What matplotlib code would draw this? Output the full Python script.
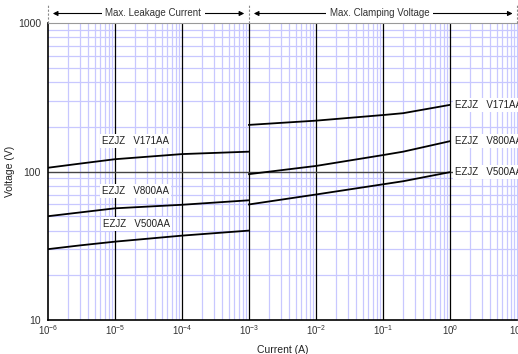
import matplotlib
matplotlib.use("Agg")
import matplotlib.pyplot as plt
import numpy as np

plt.rcParams['font.family'] = ['Liberation Sans', 'DejaVu Sans']
plt.rcParams['axes.unicode_minus'] = False

# Leakage region (current A, voltage V)
leak_x = [1e-6, 3e-6, 1e-5, 1e-4, 1e-3]
leak_171 = [106, 113, 121, 131, 136]
leak_800 = [50, 53, 56.5, 59.7, 64]
leak_500 = [30, 31.8, 33.7, 37, 40]

# Clamping region
clamp_x = [1e-3, 1e-2, 1e-1, 2e-1, 1e0]
clamp_171 = [206, 220, 240, 247, 281]
clamp_800 = [96, 109, 129, 136, 160]
clamp_500 = [60, 70, 82, 86, 99]

series_names = ["EZJZ   V171AA", "EZJZ   V800AA", "EZJZ   V500AA"]
x_ticks = [1e-6, 1e-5, 1e-4, 1e-3, 1e-2, 1e-1, 1e0, 1e1]
x_tick_labels = [r"$\mathregular{10^{-6}}$", r"$\mathregular{10^{-5}}$", r"$\mathregular{10^{-4}}$",
                 r"$\mathregular{10^{-3}}$", r"$\mathregular{10^{-2}}$", r"$\mathregular{10^{-1}}$",
                 r"$\mathregular{10^{0}}$", r"$\mathregular{10^{1}}$"]
y_ticks = [10, 100, 1000]
y_tick_labels = ["10", "100", "1000"]

fig = plt.figure(figsize=(5.18, 3.54), dpi=100)
ax = fig.add_axes([48/518, 34/354, 469/518, 297/354])
ax.set_xscale('log')
ax.set_yscale('log')
ax.set_xlim(1e-6, 1e1)
ax.set_ylim(10, 1000)

lav = '#c8c8ff'
# minor grid
for d in range(-6, 1):
    for m in range(2, 10):
        ax.axvline(m * 10.0**d, color=lav, lw=0.9, zorder=0)
for d in [1, 2]:
    for m in range(2, 10):
        ax.axhline(m * 10.0**d, color=lav, lw=0.9, zorder=0)
# major grid
for d in range(-5, 1):
    ax.axvline(10.0**d, color='black', lw=0.9, zorder=1)
ax.axhline(100, color='#444444', lw=1.0, zorder=1)

ax.tick_params(which='both', length=0)
ax.minorticks_off()
ax.set_xticks(x_ticks)
ax.set_xticklabels(x_tick_labels, fontsize=7, color='#333333')
ax.set_yticks(y_ticks)
ax.set_yticklabels(y_tick_labels, fontsize=7.5, color='#333333')
ax.tick_params(axis='x', pad=2)
ax.tick_params(axis='y', pad=5)

for s in ['left', 'bottom']:
    ax.spines[s].set_color('black')
    ax.spines[s].set_linewidth(1.2)
ax.spines['top'].set_color('#999999')
ax.spines['right'].set_color(lav)

# curves
for ys in [leak_171, leak_800, leak_500]:
    ax.plot(leak_x, ys, color='black', lw=1.3, zorder=3)
for ys in [clamp_171, clamp_800, clamp_500]:
    ax.plot(clamp_x, ys, color='black', lw=1.3, zorder=3)

bbox = dict(facecolor='white', edgecolor='none', pad=1.5)
left_pos = [(2.0e-5, 160), (2.0e-5, 74), (2.1e-5, 44)]
for (lx, ly), name in zip(left_pos, series_names):
    ax.text(lx, ly, name, fontsize=7, ha='center', va='center', bbox=bbox, zorder=4, color='#222222')
right_y = [clamp_171[-1], clamp_800[-1], clamp_500[-1]]
for ry, name in zip(right_y, series_names):
    ax.text(1.2, ry, name, fontsize=7, ha='left', va='center', bbox=bbox, zorder=4,
            color='#222222', clip_on=False)

ax.set_xlabel("Current (A)", fontsize=7.5, labelpad=6, color='#222222')
ax.set_ylabel("Voltage (V)", fontsize=7.5, labelpad=2, color='#222222')

# top annotations
for xv in [1e-6, 1e-3, 1e1]:
    ax.plot([xv, xv], [1000, 1000 * 10**(18/148.5)], ls=(0, (2, 1.5)), color='#888888', lw=0.8,
            clip_on=False, zorder=5)
ya = 1000 * 10**(9.5/148.5)
tbox = dict(facecolor='white', edgecolor='none', pad=2.5)
ax.annotate('', xy=(1.18e-6, ya), xytext=(8.5e-4, ya),
            arrowprops=dict(arrowstyle='<|-|>', color='black', lw=0.8, mutation_scale=7,
                            shrinkA=0, shrinkB=0),
            annotation_clip=False)
ax.text(10**-4.43, ya, "Max. Leakage Current", fontsize=7, ha='center', va='center',
        color='#333333', bbox=tbox, zorder=6)
ax.annotate('', xy=(1.18e-3, ya), xytext=(8.6e0, ya),
            arrowprops=dict(arrowstyle='<|-|>', color='black', lw=0.8, mutation_scale=7,
                            shrinkA=0, shrinkB=0),
            annotation_clip=False)
ax.text(10**-1.05, ya, "Max. Clamping Voltage", fontsize=7, ha='center', va='center',
        color='#333333', bbox=tbox, zorder=6)

fig.savefig("out.png", dpi=100)
